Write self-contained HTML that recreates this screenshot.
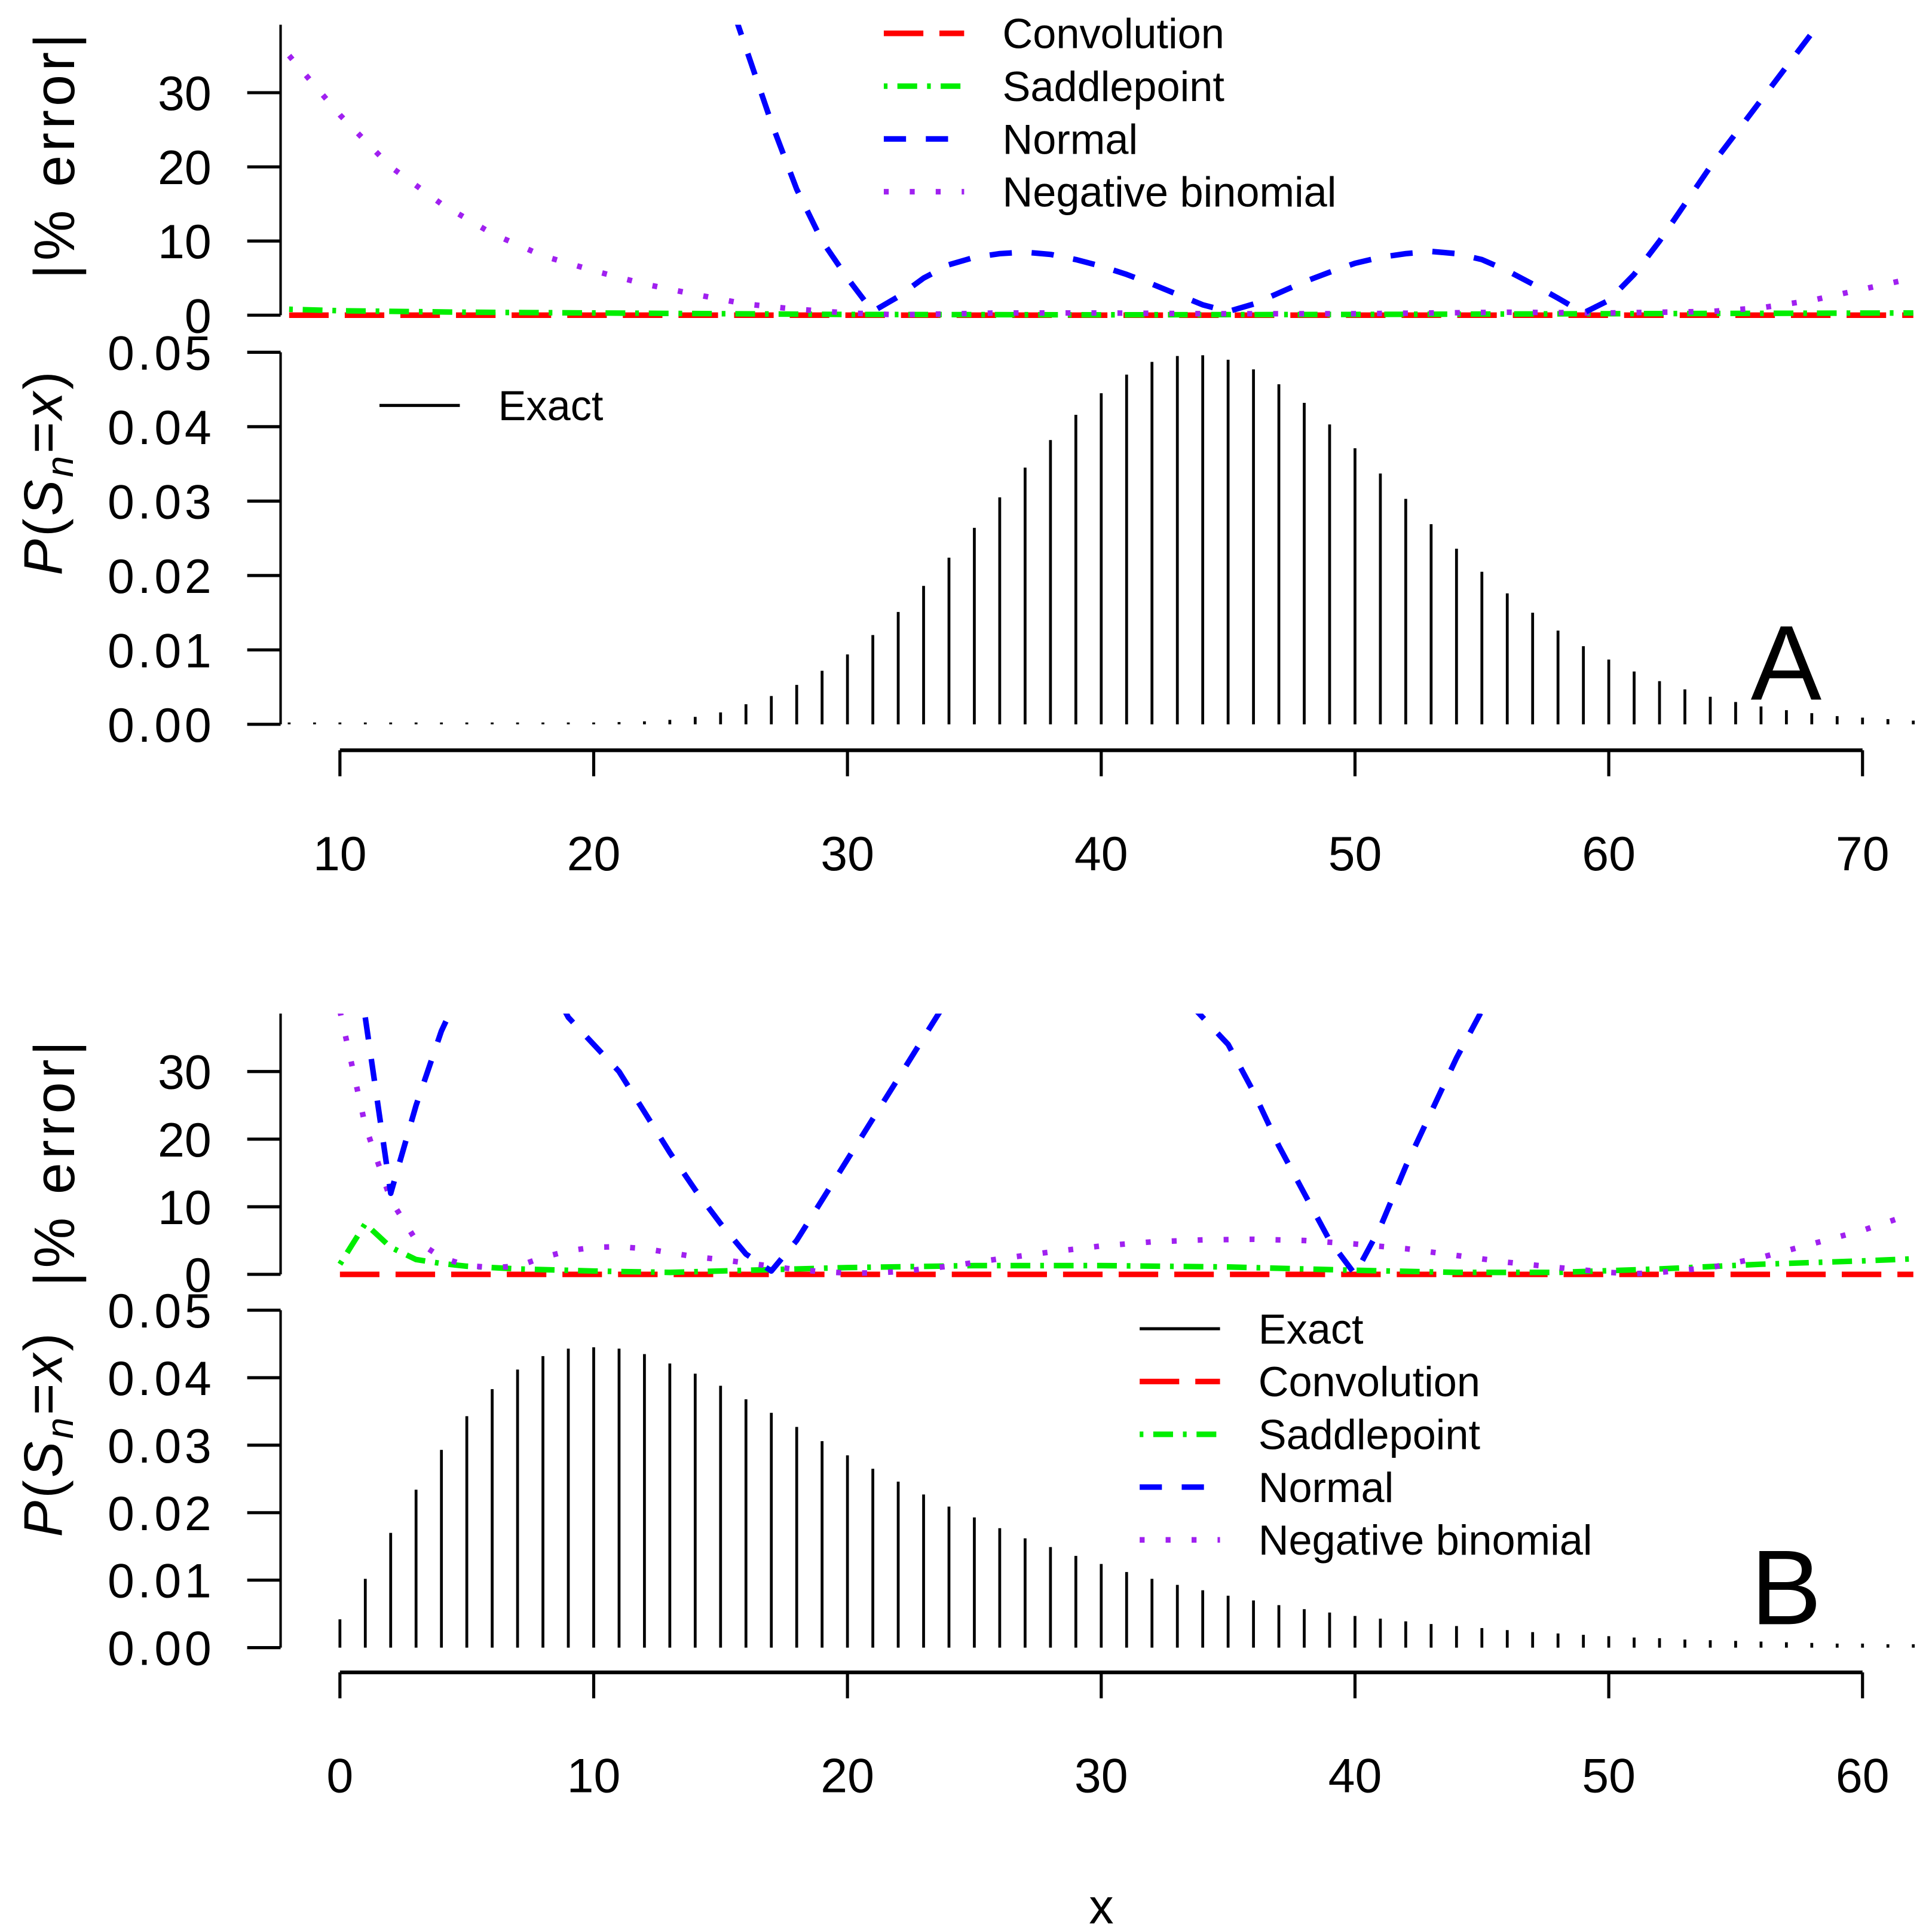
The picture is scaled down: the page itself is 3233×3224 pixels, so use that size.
<!DOCTYPE html>
<html><head><meta charset="utf-8"><style>
html,body{margin:0;padding:0;background:#fff;}
svg{display:block;font-family:"Liberation Sans",Arial,sans-serif;}
</style></head><body>
<svg id="chart" xmlns="http://www.w3.org/2000/svg" width="3233" height="3224" viewBox="0 0 1563 1559" preserveAspectRatio="none">
<defs>
<clipPath id="clipA"><rect x="227" y="20" width="1336" height="245"/></clipPath>
<clipPath id="clipB"><rect x="227" y="820" width="1336" height="220"/></clipPath>
</defs>
<g id="root"></g>
</svg>
<script>
// ---- Panel A data ----
const xA = [8,9,10,11,12,13,14,15,16,17,18,19,20,21,22,23,24,25,26,27,28,29,30,31,32,33,34,35,36,37,38,39,40,41,42,43,44,45,46,47,48,49,50,51,52,53,54,55,56,57,58,59,60,61,62,63,64,65,66,67,68,69,70,71,72];
const probA = [0.0001,0.0001,0.0001,0.0001,0.0001,0.0001,0.0001,0.0001,0.0001,0.0001,0.0001,0.0002,0.0002,0.0003,0.0004,0.0006,0.001,0.0016,0.0027,0.0038,0.0053,0.0072,0.0094,0.012,0.0151,0.0186,0.0224,0.0264,0.0305,0.0345,0.0382,0.0416,0.0445,0.047,0.0487,0.0495,0.0496,0.049,0.0477,0.0457,0.0432,0.0403,0.0371,0.0337,0.0303,0.0269,0.0236,0.0205,0.0176,0.015,0.0126,0.0105,0.0087,0.0071,0.0058,0.0047,0.0037,0.003,0.0024,0.0019,0.0015,0.0011,0.0009,0.0007,0.0005];
const normXA = [25,26,27,28,29,30,31,32,33,34,35,36,37,38,39,40,41,42,43,44,45,46,47,48,49,50,51,52,53,54,55,56,57,58,59,60,61,62,63,64,65,66,67,68,69];
const normA = [46,36,26,17,10,5,0.5,2.5,5,6.8,7.8,8.3,8.5,8.2,7.5,6.6,5.5,4.2,2.8,1.4,0.5,1.5,3,4.5,5.8,7,7.8,8.3,8.6,8.3,7.5,6,4.2,2.3,0.3,2,5.5,10,15,20,24.5,29,33.5,38,43];
const nbXA = [8,10,12,14,16,18,20,22,24,26,28,30,32,36,40,44,50,56,60,64,66,68,70,72];
const nbA = [35,27,20,15,11,8,6,4.2,2.8,1.5,0.8,0.3,0.05,0.3,0.3,0.2,0.2,0.4,0.3,0.5,1,2,3.5,5];
const spXA = [8,10,15,20,30,40,50,60,72];
const spA = [0.8,0.6,0.4,0.3,0.1,0.05,0.1,0.2,0.3];
const convXA = [8,72];
const convA = [0,0];
const tickXA = [10,20,30,40,50,60,70];
// ---- Panel B data ----
const xB = [0,1,2,3,4,5,6,7,8,9,10,11,12,13,14,15,16,17,18,19,20,21,22,23,24,25,26,27,28,29,30,31,32,33,34,35,36,37,38,39,40,41,42,43,44,45,46,47,48,49,50,51,52,53,54,55,56,57,58,59,60,61,62];
const probB = [0.0042,0.0102,0.017,0.0234,0.0293,0.0343,0.0383,0.0412,0.0432,0.0443,0.0445,0.0443,0.0435,0.0421,0.0406,0.0388,0.0368,0.0348,0.0327,0.0306,0.0285,0.0265,0.0246,0.0227,0.0209,0.0193,0.0177,0.0162,0.0149,0.0136,0.0124,0.0112,0.0102,0.0093,0.0085,0.0077,0.007,0.0063,0.0057,0.0052,0.0047,0.0043,0.0039,0.0035,0.0032,0.0029,0.0026,0.0023,0.0021,0.0019,0.0017,0.0015,0.0014,0.0012,0.0011,0.001,0.0009,0.0008,0.0007,0.0006,0.0006,0.0005,0.0005];
const normXB = [1,2,3,4,5,6,7,8,9,10,11,12,13,14,15,16,17,18,19,20,21,22,23,24,25,26,27,28,29,30,31,32,33,34,35,36,37,38,39,40,41,42,43,44,45,46];
const normB = [38,12,25,36,44,48,49,45,38,34,30,24,18,12.5,7.5,3,0.5,5,11,17,23,29,35,41,47,52,55,57,57,55,52,47,42,38,34,27,19,12,5,0,7,16,24,32,39,47];
const nbXB = [0,1,2,3,4,5,6,7,8,9,10,11,12,13,14,15,16,17,18,19,20,21,22,24,26,28,30,32,34,36,38,40,42,44,46,48,50,51,52,54,56,58,60,62];
const nbB = [39,22,11,5,2.5,1.3,1,1.2,2.5,3.5,4,4.1,3.8,3.2,2.6,2.2,1.7,1.2,0.7,0.4,0.2,0.2,0.4,1.2,2.3,3.3,4.2,4.8,5.1,5.2,5,4.5,3.8,2.8,1.8,1,0.3,0.1,0.3,1,2.5,4.5,6.5,9];
const spXB = [0,1,2,3,4,5,7,10,13,16,20,25,30,35,40,44,48,52,56,60,62];
const spB = [1.5,7.5,4,2.2,1.6,1.2,0.8,0.5,0.3,0.6,1,1.3,1.3,1.1,0.6,0.3,0.3,0.8,1.5,2,2.3];
const convXB = [0,62];
const convB = [0,0];
const tickXB = [0,10,20,30,40,50,60];
// ---- shared ticks ----
const errTicks = [0,10,20,30];
const probTicks = ["0.00","0.01","0.02","0.03","0.04","0.05"];
const legendLabels = ["Exact","Convolution","Saddlepoint","Normal","Negative binomial"];

const NS = "http://www.w3.org/2000/svg";
const root = document.getElementById('root');
function mk(tag, attrs, parent, text){
  const e = document.createElementNS(NS, tag);
  for (const k in attrs) e.setAttribute(k, attrs[k]);
  if (text !== undefined) e.textContent = text;
  (parent || root).appendChild(e);
  return e;
}
const styles = {
  conv:{stroke:"#ff0000", dash:"32 13"},
  sp:{stroke:"#00ee00", dash:"3 8 16 8"},
  norm:{stroke:"#0000ff", dash:"18 16"},
  nb:{stroke:"#a020f0", dash:"4 17"}
};

function panel(cfg){
  const X = v => cfg.x0px + (v - cfg.x0) * cfg.pxPerX;
  const YE = v => cfg.e0 - v * cfg.pxPerE;
  const YP = v => cfg.p0 - v * cfg.pxPerP;
  const g = mk('g', {});
  
  
  const ya = mk('line', {x1:227,y1:YE(errTicks[0]),x2:227,y2:cfg.eTop,stroke:'#000','stroke-width':2}, g);
   
  errTicks.forEach(t=>{
    const tl = mk('line',{x1:200,x2:227,y1:YE(t),y2:YE(t),stroke:'#000','stroke-width':2.5},g);
     
    const tx = mk('text',{x:171,y:YE(t)+14,'text-anchor':'end','font-size':39},g,String(t));
     
  });
  const yb = mk('line',{x1:227,y1:YP(0),x2:227,y2:YP(0.05),stroke:'#000','stroke-width':2},g);
   
  probTicks.forEach(t=>{
    const v = parseFloat(t);
    const tl = mk('line',{x1:200,x2:227,y1:YP(v),y2:YP(v),stroke:'#000','stroke-width':2.5},g);
     
    const tx = mk('text',{x:171,y:YP(v)+14,'text-anchor':'end','font-size':39,'textLength':84},g,t);
     
  });
  const et = mk('text',{transform:`translate(60,${cfg.eTitleY}) rotate(-90)`,'text-anchor':'middle','font-size':46,'letter-spacing':3},g,'|% error|');
   
  const pt = mk('text',{transform:`translate(50,${cfg.pTitleY}) rotate(-90)`,'text-anchor':'middle','font-size':44,'letter-spacing':2},g);
   
  pt.innerHTML = '<tspan font-style="italic">P</tspan>(<tspan font-style="italic">S</tspan><tspan font-style="italic" font-size="31" dy="9">n</tspan><tspan dy="-9">=</tspan><tspan font-style="italic">x</tspan>)';
  const ticks = cfg.ticks;
  const xa = mk('line',{x1:X(ticks[0]),x2:X(ticks[ticks.length-1]),y1:cfg.xAxisY,y2:cfg.xAxisY,stroke:'#000','stroke-width':3},g);
   
  ticks.forEach(t=>{
    const tl = mk('line',{x1:X(t),x2:X(t),y1:cfg.xAxisY,y2:cfg.xAxisY+21,stroke:'#000','stroke-width':2.5},g);
     
    const tx = mk('text',{x:X(t),y:cfg.xAxisY+97,'text-anchor':'middle','font-size':39},g,String(t));
     
  });
  cfg.bx.forEach((xv,i)=>{
    const b = mk('line',{x1:X(xv),x2:X(xv),y1:YP(0),y2:Math.min(YP(cfg.bp[i]),YP(0)-1.5),stroke:'#000','stroke-width':2.3},g);
     
  });
  const cg = mk('g',{'clip-path':`url(#${cfg.clip})`},g);
  [['conv',cfg.convX,cfg.conv],['sp',cfg.spX,cfg.sp],['nb',cfg.nbX,cfg.nb],['norm',cfg.normX,cfg.norm]].forEach(([k,xs,ys])=>{
    const d = xs.map((xv,i)=>(i?'L':'M')+X(xv).toFixed(1)+' '+YE(ys[i]).toFixed(1)).join(' ');
    const p = mk('path',{d:d,fill:'none',stroke:styles[k].stroke,'stroke-width':4.5,'stroke-dasharray':styles[k].dash,'stroke-linejoin':'round'},cg);
     
  });
  const L = mk('text',{x:1445,y:cfg.letterY,'text-anchor':'middle','font-size':86},g,cfg.letter);
   
  return g;
}

function legend(x, y0, labels, keys, name){
  const g = mk('g',{});
  
  
  labels.forEach((lab,i)=>{
    const y = y0 + i*42.7;
    const k = keys[i];
    const ln = mk('line',{x1:x,x2:x+65,y1:y,y2:y,stroke:k?styles[k].stroke:'#000','stroke-width':k?4.5:2.5,'stroke-dasharray':k?styles[k].dash:'none'},g);
     
    const t = mk('text',{x:x+96,y:y+12,'font-size':34},g,lab);
     
  });
}

panel({name:'panel-a',x0:10,x0px:275,pxPerX:20.53,e0:255,pxPerE:6,eTop:20,p0:586,pxPerP:6020,
  xAxisY:607,ticks:tickXA,bx:xA,bp:probA,clip:'clipA',eTitleY:125,pTitleY:382,letter:'A',letterY:566,
  convX:convXA,conv:convA,spX:spXA,sp:spA,nbX:nbXA,nb:nbA,normX:normXA,norm:normA});
panel({name:'panel-b',x0:0,x0px:275,pxPerX:20.53,e0:1031,pxPerE:5.47,eTop:820,p0:1333,pxPerP:5460,
  xAxisY:1353,ticks:tickXB,bx:xB,bp:probB,clip:'clipB',eTitleY:940,pTitleY:1160,letter:'B',letterY:1314,
  convX:convXB,conv:convB,spX:spXB,sp:spB,nbX:nbXB,nb:nbB,normX:normXB,norm:normB});

legend(715,27,legendLabels.slice(1),['conv','sp','norm','nb'],'legend-a-errors');
legend(307,328,legendLabels.slice(0,1),[null],'legend-a-exact');
legend(922,1075,legendLabels,[null,'conv','sp','norm','nb'],'legend-b');

const xt = mk('text',{x:891,y:1556,'text-anchor':'middle','font-size':40},root,'x');


</script>
</body></html>
